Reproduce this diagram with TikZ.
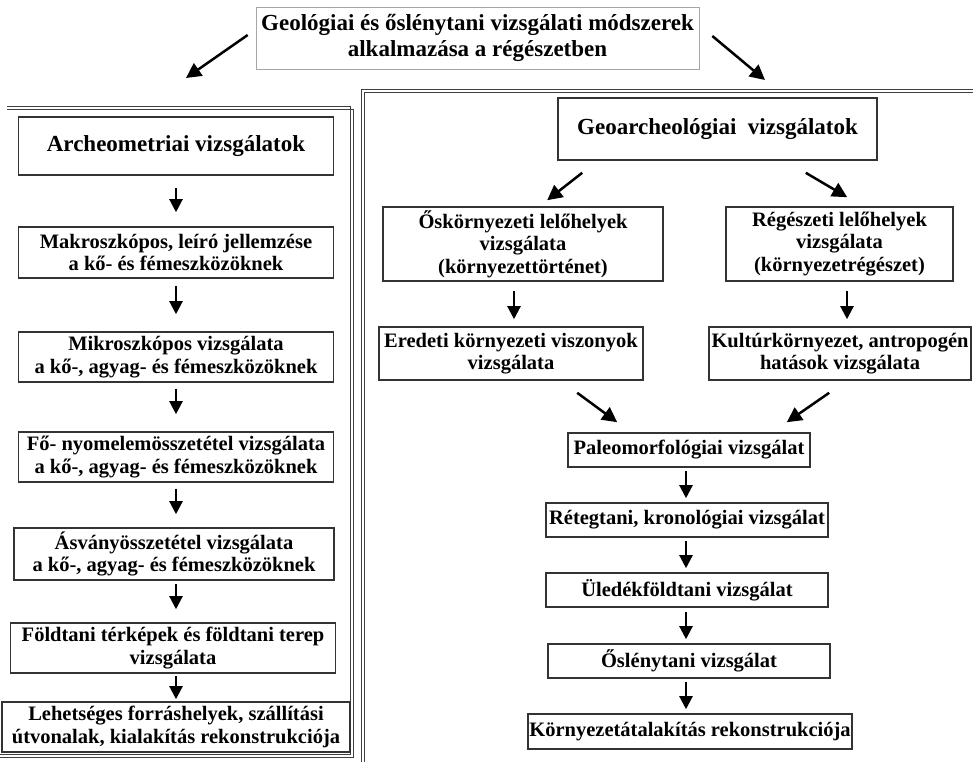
\documentclass[tikz,border=0pt]{standalone}
\usepackage{fontspec}
\setmainfont{Liberation Serif}
\usetikzlibrary{arrows.meta}
\begin{document}
\begin{tikzpicture}[x=1pt,y=-1pt,
  box/.style={draw=black!80, line width=1.6pt, fill=white, inner sep=0pt, align=center,
    font=\fontsize{20.5}{22.5}\selectfont\bfseries},
  bigbox/.style={box, font=\fontsize{23}{26}\selectfont\bfseries},
  titlebox/.style={draw=black!35, line width=0.6pt, fill=white, inner sep=0pt, align=center,
    font=\fontsize{23}{25.5}\selectfont\bfseries},
  arr/.style={line width=2.3pt, -{Triangle[length=13pt,width=13pt]}},
  darr/.style={line width=2.5pt, -{Triangle[length=15pt,width=15pt]}},
  panelline/.style={draw=black!75, line width=0.8pt}]
\useasboundingbox (0,0) rectangle (973,761);
% panels (double lines)
\draw[panelline] (7,106) -- (350.5,106) -- (350.5,754) -- (0,754);
\draw[panelline] (7,109) -- (353.5,109) -- (353.5,757) -- (0,757);
\draw[panelline] (361,765) -- (361,89) -- (980,89);
\draw[panelline] (364,765) -- (364,92) -- (980,92);
% title
\node[titlebox, minimum width=443pt, minimum height=62pt] (top) at (477.5,38)
  {Geológiai és őslénytani vizsgálati módszerek\\alkalmazása a régészetben};
\coordinate (lt) at (186,78);
\coordinate (rt) at (765,80);
\draw[darr] ([xshift=-8pt,yshift=3pt]top.west) -- (lt);
\draw[darr] ([xshift=13pt,yshift=2pt]top.east) -- (rt);
% left column
\node[bigbox, minimum width=315pt, minimum height=58pt] (arch) at (176,146) {Archeometriai vizsgálatok};
\node[box, minimum width=315pt, minimum height=51pt] (makro) at (176,252.5)
  {Makroszkópos, leíró jellemzése\\a kő- és fémeszközöknek};
\node[box, minimum width=315pt, minimum height=50pt] (mikro) at (176,357)
  {Mikroszkópos vizsgálata\\a kő-, agyag- és fémeszközöknek};
\node[box, minimum width=315pt, minimum height=50pt] (fo) at (176,457)
  {Fő- nyomelemösszetétel vizsgálata\\a kő-, agyag- és fémeszközöknek};
\node[box, minimum width=320pt, minimum height=52pt] (asv) at (174,554)
  {Ásványösszetétel vizsgálata\\a kő-, agyag- és fémeszközöknek};
\node[box, minimum width=325pt, minimum height=50pt] (foldt) at (173,648)
  {Földtani térképek és földtani terep\\vizsgálata};
\node[box, minimum width=348pt, minimum height=50pt] (lehet) at (176,727)
  {Lehetséges forráshelyek, szállítási\\útvonalak, kialakítás rekonstrukciója};
\draw[arr] ([yshift=-12pt]arch.south) -- ([yshift=14pt]makro.north);
\draw[arr] ([yshift=-7pt]makro.south) -- ([yshift=17pt]mikro.north);
\draw[arr] ([yshift=-6pt]mikro.south) -- ([yshift=17pt]fo.north);
\draw[arr] ([xshift=0pt,yshift=-6pt]fo.south) -- ([xshift=2pt,yshift=13pt]asv.north);
\draw[arr] ([xshift=2pt,yshift=-3pt]asv.south) -- ([xshift=3pt,yshift=13pt]foldt.north);
\draw[arr] ([xshift=3pt,yshift=-2pt]foldt.south) -- ([yshift=2pt]lehet.north);
% right column
\node[bigbox, minimum width=319pt, minimum height=62pt] (geo) at (717.5,129) {Geoarcheológiai\ \ vizsgálatok};
\node[box, minimum width=280pt, minimum height=74pt] (osk) at (523,244)
  {Őskörnyezeti lelőhelyek\\vizsgálata\\(környezettörténet)};
\node[box, minimum width=227pt, minimum height=74pt] (reg) at (839.5,244)
  {Régészeti lelőhelyek\\vizsgálata\\(környezetrégészet)};
\node[box, minimum width=264pt, minimum height=53pt] (ered) at (511,353.5)
  {Eredeti környezeti viszonyok\\vizsgálata};
\node[box, minimum width=262pt, minimum height=53pt] (kult) at (840,353.5)
  {Kultúrkörnyezet, antropogén\\hatások vizsgálata};
\node[box, minimum width=242pt, minimum height=34pt] (paleo) at (689,450) {Paleomorfológiai vizsgálat};
\node[box, minimum width=282pt, minimum height=34pt] (ret) at (687,520) {Rétegtani, kronológiai vizsgálat};
\node[box, minimum width=282pt, minimum height=34pt] (uled) at (687,590) {Üledékföldtani vizsgálat};
\node[box, minimum width=282pt, minimum height=34pt] (osl) at (689,661) {Őslénytani vizsgálat};
\node[box, minimum width=324pt, minimum height=35pt] (korny) at (690,731.5) {Környezetátalakítás rekonstrukciója};
\draw[darr] ([xshift=25pt,yshift=-12pt]geo.south west) -- ([xshift=165pt,yshift=6pt]osk.north west);
\draw[darr] ([xshift=-72pt,yshift=-12pt]geo.south east) -- ([xshift=122pt,yshift=9pt]reg.north west);
\draw[arr] ([xshift=-9pt,yshift=-9pt]osk.south) -- ([xshift=3pt,yshift=7pt]ered.north);
\draw[arr] ([xshift=7.5pt,yshift=-9pt]reg.south) -- ([xshift=7pt,yshift=7pt]kult.north);
\draw[darr] ([xshift=199pt,yshift=-12pt]ered.south west) -- ([xshift=50pt,yshift=10pt]paleo.north west);
\draw[darr] ([xshift=121pt,yshift=-12pt]kult.south west) -- ([xshift=-24pt,yshift=10pt]paleo.north east);
\draw[arr] ([xshift=-3pt,yshift=-3pt]paleo.south) -- ([xshift=-1pt,yshift=4pt]ret.north);
\draw[arr] ([xshift=-1pt,yshift=-3pt]ret.south) -- ([xshift=-1pt,yshift=4pt]uled.north);
\draw[arr] ([xshift=-1pt,yshift=-4pt]uled.south) -- ([xshift=-3pt,yshift=4pt]osl.north);
\draw[arr] ([xshift=-3pt,yshift=-3pt]osl.south) -- ([xshift=-4pt,yshift=4pt]korny.north);
\end{tikzpicture}
\end{document}
